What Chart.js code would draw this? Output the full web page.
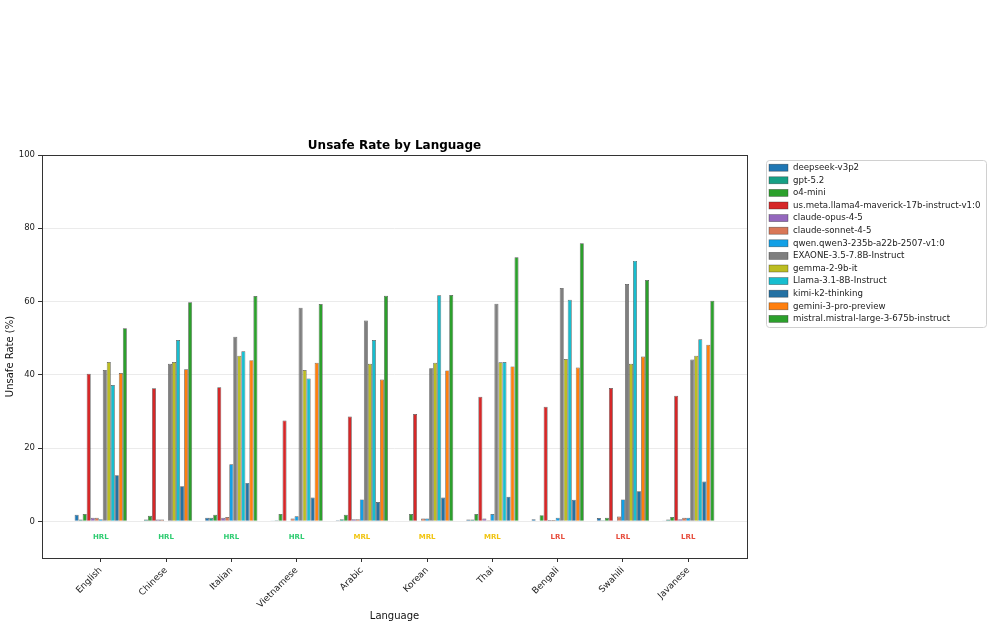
<!DOCTYPE html>
<html>
<head>
<meta charset="utf-8">
<script src="https://cdn.jsdelivr.net/npm/chart.js@4.4.1/dist/chart.umd.min.js"></script>
<style>
html,body{margin:0;padding:0;background:#fff;}
#wrap{width:992px;height:628px;position:relative;}
</style>
</head>
<body>
<div id="wrap"><canvas id="chart"></canvas></div>
<script>
// categories
const languages = ["English","Chinese","Italian","Vietnamese","Arabic","Korean","Thai","Bengali","Swahili","Javanese"];
const tiers = ["HRL","HRL","HRL","HRL","MRL","MRL","MRL","LRL","LRL","LRL"];
const models = ["deepseek-v3p2","gpt-5.2","o4-mini","us.meta.llama4-maverick-17b-instruct-v1:0","claude-opus-4-5",
  "claude-sonnet-4-5","qwen.qwen3-235b-a22b-2507-v1:0","EXAONE-3.5-7.8B-Instruct","gemma-2-9b-it",
  "Llama-3.1-8B-Instruct","kimi-k2-thinking","gemini-3-pro-preview","mistral.mistral-large-3-675b-instruct"];
const yTicks = [0,20,40,60,80,100];

// unsafe rate (%) per model, in language order
const deepseek = [1.8,0.2,1.0,0.1,0.3,0.2,0.5,0.6,0.9,0.1];
const gpt52    = [0.5,0.5,1.0,0.3,0.6,0.2,0.5,0.2,0.3,0.5];
const o4mini   = [2.0,1.5,1.8,2.0,1.8,2.0,2.0,1.7,1.0,1.2];
const llama4   = [40.3,36.3,36.6,27.5,28.6,29.3,34.0,31.3,36.4,34.3];
const opus     = [1.0,0.5,1.0,0.2,0.6,0.2,0.8,0.4,0.1,0.6];
const sonnet   = [1.0,0.5,1.2,0.8,0.6,0.8,0.3,0.4,1.3,1.0];
const qwen     = [0.6,0.0,15.6,1.4,6.0,0.8,2.0,1.0,6.0,1.0];
const exaone   = [41.3,43.0,50.4,58.3,54.8,41.8,59.4,63.7,64.8,44.2];
const gemma    = [43.5,43.5,45.2,41.3,43.0,43.3,43.4,44.3,43.0,45.2];
const llama31  = [37.2,49.5,46.4,39.0,49.5,61.7,43.5,60.5,71.1,49.7];
const kimi     = [12.6,9.6,10.5,6.5,5.3,6.5,6.7,5.9,8.2,10.9];
const gemini   = [40.5,41.5,44.0,43.3,38.7,41.2,42.3,42.0,45.0,48.2];
const mistral  = [52.7,59.8,61.5,59.3,61.6,61.8,72.1,75.9,65.9,60.2];

const series = [deepseek,gpt52,o4mini,llama4,opus,sonnet,qwen,exaone,gemma,llama31,kimi,gemini,mistral];
const colors = ["#1f77b4","#16a085","#2ca02c","#d62728","#9467bd","#d97757","#12a0e6",
  "#7f7f7f","#bcbd22","#17becf","#2471a3","#ff7f0e","#2ca02c"];
const tierColors = {HRL:"#2ecc71", MRL:"#f1c40f", LRL:"#e74c3c"};

Chart.defaults.font.family = "'DejaVu Sans', sans-serif";
Chart.defaults.color = "#222";

// frame, title, tier labels and the boxed legend
const decor = {
  id: 'decor',
  afterDraw(chart) {
    const ctx = chart.ctx, a = chart.chartArea;
    const xs = chart.scales.x, ys = chart.scales.y;
    ctx.save();
    // tier labels under each group
    ctx.font = "bold 7px 'DejaVu Sans'";
    ctx.textAlign = 'center';
    ctx.textBaseline = 'middle';
    tiers.forEach((t, i) => {
      ctx.fillStyle = tierColors[t];
      ctx.fillText(t, xs.getPixelForValue(i), ys.getPixelForValue(-4.4));
    });
    // frame
    ctx.strokeStyle = '#333';
    ctx.lineWidth = 1;
    ctx.strokeRect(Math.round(a.left) + 0.5, Math.round(a.top) + 0.5,
      Math.round(a.right - a.left), Math.round(a.bottom - a.top));
    // title
    ctx.fillStyle = '#000';
    ctx.font = "bold 12px 'DejaVu Sans'";
    ctx.fillText('Unsafe Rate by Language', (a.left + a.right) / 2, 146);
    // legend
    ctx.beginPath();
    ctx.roundRect(766.5, 160.5, 220, 167, 3);
    ctx.fillStyle = 'rgba(255,255,255,0.8)';
    ctx.fill();
    ctx.strokeStyle = '#d0d0d0';
    ctx.stroke();
    let fs = 10;
    ctx.font = fs + "px 'DejaVu Sans'";
    const w = ctx.measureText(models[3]).width;
    fs = fs * 188 / w;
    ctx.font = fs.toFixed(2) + "px 'DejaVu Sans'";
    ctx.textAlign = 'left';
    models.forEach((m, i) => {
      const y = 167.7 + i * 12.6;
      ctx.fillStyle = colors[i];
      ctx.fillRect(769, y - 3.5, 19, 7);
      ctx.strokeStyle = 'rgba(40,40,40,0.6)';
      ctx.lineWidth = 0.6;
      ctx.strokeRect(769, y - 3.5, 19, 7);
      ctx.fillStyle = '#222';
      ctx.fillText(m, 793, y);
    });
    ctx.restore();
  }
};

new Chart(document.getElementById('chart'), {
  type: 'bar',
  data: {
    datasets: models.map((m, i) => ({
      label: m,
      data: series[i].map((v, j) => ({x: j, y: v})),
      backgroundColor: colors[i],
      borderColor: 'rgba(30,30,30,0.75)',
      borderWidth: 0.7,
      categoryPercentage: 0.8,
      barPercentage: 1.0
    }))
  },
  options: {
    responsive: true,
    maintainAspectRatio: false,
    animation: false,
    layout: {padding: {top: 155, right: 245, bottom: 2, left: 0}},
    plugins: {
      legend: {display: false},
      title: {display: false},
      tooltip: {enabled: false}
    },
    scales: {
      x: {
        type: 'linear',
        min: -0.9,
        max: 9.9,
        offset: false,
        ticks: {
          stepSize: 1,
          includeBounds: false,
          autoSkip: false,
          minRotation: 45,
          maxRotation: 45,
          font: {size: 9},
          color: '#222',
          callback: (v) => languages[v] !== undefined ? languages[v] : ''
        },
        grid: {offset: false, drawOnChartArea: false, tickLength: 4, color: '#333'},
        border: {display: false},
        title: {display: true, text: 'Language', font: {size: 10}, color: '#111', padding: {top: 2, bottom: 4}},
        afterFit(s) { s.height = 68; }
      },
      y: {
        min: -10,
        max: 100,
        afterBuildTicks(s) { s.ticks = yTicks.map(v => ({value: v})); },
        ticks: {font: {size: 8.5}, color: '#222', padding: 3},
        grid: {color: '#ebebeb', tickColor: '#333', tickLength: 4},
        border: {display: false},
        title: {display: true, text: 'Unsafe Rate (%)', font: {size: 10}, color: '#111', padding: {top: 4, bottom: 2}},
        afterFit(s) { s.width = 42; }
      }
    }
  },
  plugins: [decor]
});
</script>
</body>
</html>
